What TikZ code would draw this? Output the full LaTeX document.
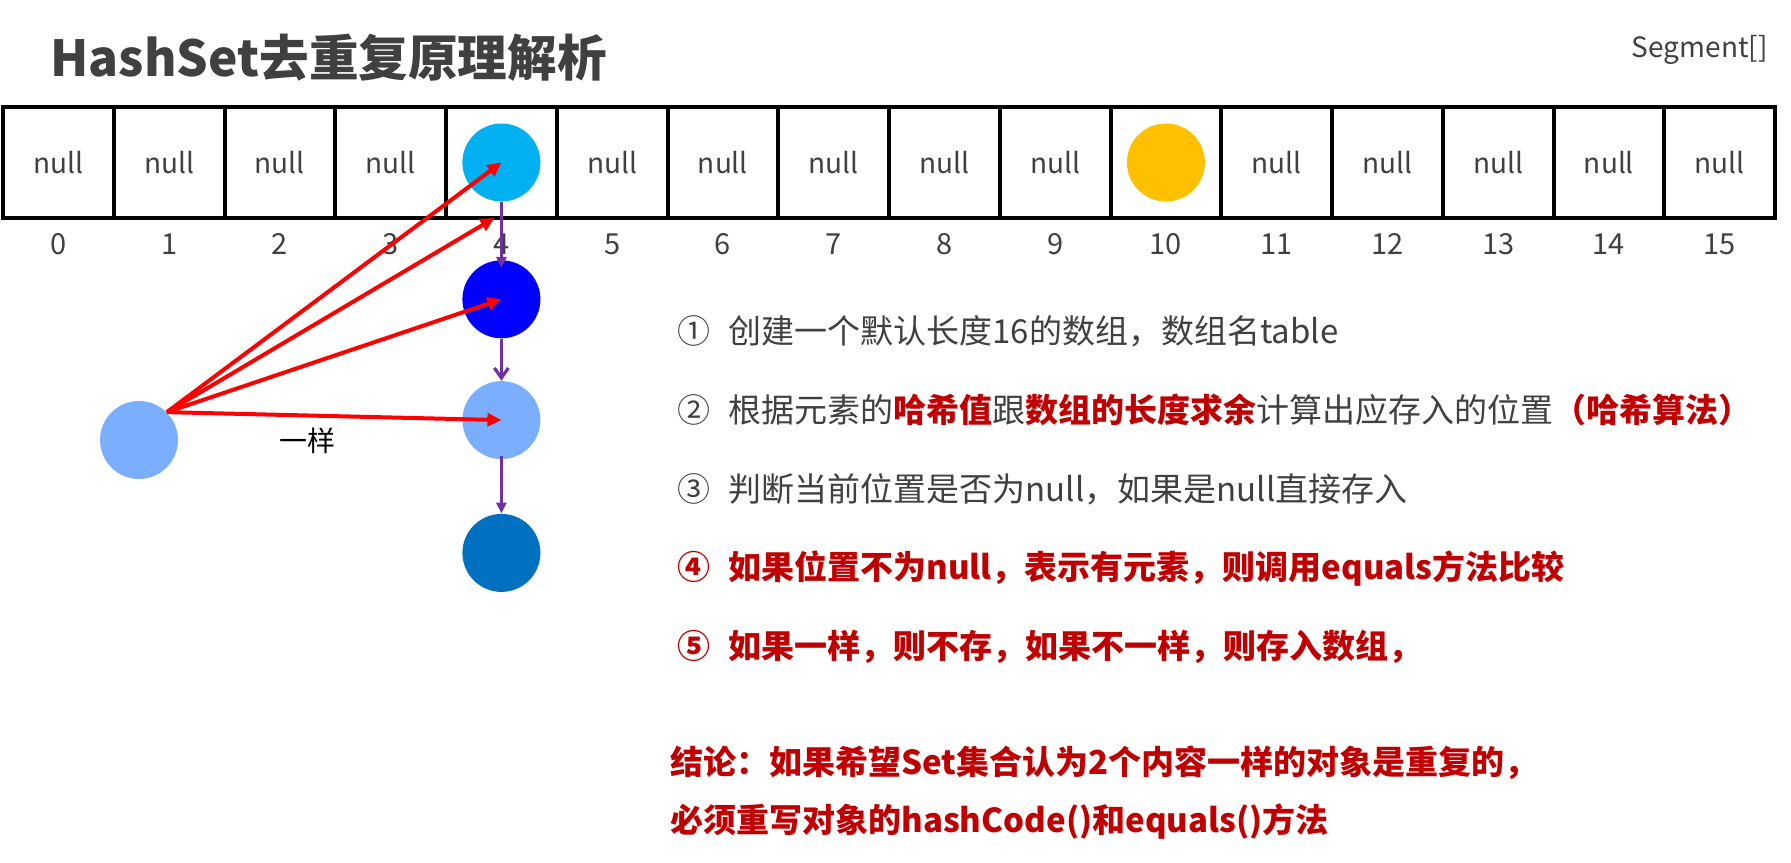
\documentclass[tikz,border=0pt]{standalone}
\usepackage{fontspec}
\setmainfont{Noto Sans CJK SC}
\usetikzlibrary{arrows.meta, positioning}
\definecolor{txtgray}{HTML}{404040}
\definecolor{keyred}{HTML}{C00000}
\definecolor{ballcyan}{HTML}{00B0F0}
\definecolor{ballgold}{HTML}{FFC000}
\definecolor{ballblue}{HTML}{0000FF}
\definecolor{balllight}{HTML}{7BAEFF}
\definecolor{balldeep}{HTML}{0070C0}
\definecolor{chainpurple}{HTML}{7030A0}
\newcommand{\keyhl}[1]{\textcolor{keyred}{\bfseries #1}}

\begin{document}
\begin{tikzpicture}[
    x=0.5pt, y=-0.5pt,
    >={Triangle[length=7pt, width=6.5pt]},
    every node/.style={text=txtgray},
    head/.style={font=\fontsize{24.8pt}{28pt}\selectfont\bfseries, anchor=west, inner sep=0pt},
    cell/.style={draw=black, line width=2pt, minimum width=55.375pt, minimum height=55.5pt,
                 outer sep=0pt, inner sep=0pt, font=\fontsize{14pt}{16pt}\selectfont},
    idx/.style={font=\fontsize{14.5pt}{16pt}\selectfont, inner sep=0pt},
    ball/.style={circle, minimum size=39pt, inner sep=0pt},
    stepline/.style={anchor=west, inner sep=0pt, font=\fontsize{16.5pt}{20pt}\selectfont},
    alert/.style={stepline, text=keyred, font=\fontsize{16.5pt}{20pt}\selectfont\bfseries},
    hit/.style={->, red, line width=2pt},
    link/.style={->, line width=1.6pt, chainpurple, >={Triangle[length=5.5pt, width=5pt]}},
]
\useasboundingbox (0,0) rectangle (1791,862);

\node[head] (title) at (50,58) {HashSet去重复原理解析};
\node[anchor=east, inner sep=0pt, font=\fontsize{14pt}{16pt}\selectfont] (seg) at (1768,50) {Segment[]};

% the table: 16 buckets, slot 4 and 10 hold elements
\node[cell] (c0) at (58.4,162.5) {null};
\foreach \i [remember=\i as \prev (initially 0)] in {1,...,15}
    \node[cell, right=0pt of c\prev] (c\i) {\ifnum\i=4 \else\ifnum\i=10 \else null\fi\fi};
\foreach \i in {0,...,15}
    \node[idx] (n\i) at ([yshift=-13pt]c\i.south) {\i};

\node[ball, fill=ballcyan] (e4)  at (c4.center)  {};
\node[ball, fill=ballgold] (e10) at (c10.center) {};
\node[ball, fill=ballblue,  below=29pt of e4]   (blue)   {};
\node[ball, fill=balllight, below=21pt of blue]  (light)  {};
\node[ball, fill=balldeep,  below=27pt of light] (deep)   {};
\node[ball, fill=balllight] (new) at (139,440) {};
\coordinate (edge) at ([xshift=-3.5pt]c4.south);

% linked list under slot 4
\draw[link] (e4.south) -- ([yshift=-4pt]blue.north);
\draw[link, >={Straight Barb[length=5pt, width=7pt]}] (blue.south) -- (light.north);
\draw[link] ([yshift=2pt]light.south) -- (deep.north);

% the new element is compared with every entry
\draw[hit] (new.north east) -- (e4.center);
\draw[hit] (new.north east) -- (edge);
\draw[hit] (new.north east) -- (blue.center);
\draw[hit] (new.north east) -- node[pos=0.42, below=2pt, text=black,
    font=\fontsize{14pt}{16pt}\selectfont] (same) {一样} (light.center);

\node[stepline] (s1) at (677,331) {①\hspace{0.55em}创建一个默认长度16的数组，数组名table};
\node[stepline, below=39.5pt of s1.west, anchor=west] (s2)
    {②\hspace{0.55em}根据元素的\keyhl{哈希值}跟\keyhl{数组的长度求余}计算出应存入的位置\keyhl{（哈希算法）}};
\node[stepline, below=39.5pt of s2.west, anchor=west] (s3) {③\hspace{0.55em}判断当前位置是否为null，如果是null直接存入};
\node[alert, below=39.5pt of s3.west, anchor=west] (s4) {④\hspace{0.55em}如果位置不为null，表示有元素，则调用equals方法比较};
\node[alert, below=39.5pt of s4.west, anchor=west] (s5) {⑤\hspace{0.55em}如果一样，则不存，如果不一样，则存入数组，};

\node[alert] (end1) at (670,763) {结论：如果希望Set集合认为2个内容一样的对象是重复的，};
\node[alert, below=29.5pt of end1.west, anchor=west] (end2) {必须重写对象的hashCode()和equals()方法};
\end{tikzpicture}
\end{document}
